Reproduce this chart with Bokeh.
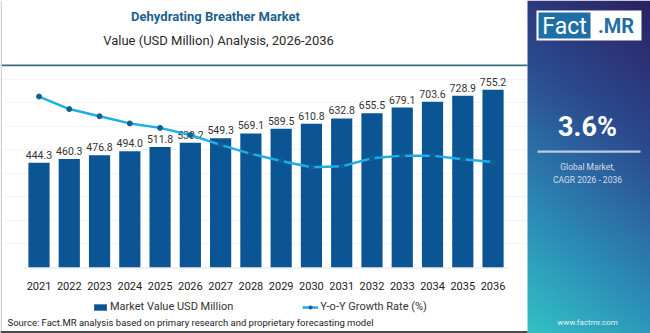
import numpy as np
from bokeh.plotting import figure
from bokeh.models import (Range1d, Label, BoxAnnotation, Legend, LegendItem,
                          ColumnDataSource, FixedTicker)
from bokeh.core.properties import value
from bokeh.embed import file_html
from bokeh.resources import INLINE

# ---------------- data ----------------
years = ["2021", "2022", "2023", "2024", "2025", "2026", "2027", "2028",
         "2029", "2030", "2031", "2032", "2033", "2034", "2035", "2036"]
market_value = [444.3, 460.3, 476.8, 494.0, 511.8, 530.2, 549.3, 569.1,
                589.5, 610.8, 632.8, 655.5, 679.1, 703.6, 728.9, 755.2]
value_labels = ["444.3", "460.3", "476.8", "494.0", "511.8", "530.2", "549.3", "569.1",
                "589.5", "610.8", "632.8", "655.5", "679.1", "703.6", "728.9", "755.2"]
yoy_growth = [4.11, 3.97, 3.89, 3.81, 3.76, 3.68, 3.57, 3.47,
              3.39, 3.32, 3.33, 3.42, 3.45, 3.45, 3.41, 3.38]

title_text = "Dehydrating Breather Market"
subtitle_text = "Value (USD Million) Analysis, 2026-2036"
source_text = "Source: Fact.MR analysis based on primary research and proprietary forecasting model"
bar_series_name = "Market Value USD Million"
line_series_name = "Y-o-Y Growth Rate (%)"
cagr_text = "3.6%"

# ---------------- styles / geometry ----------------
W, H = 650, 333
BAR = "#0b5595"
LINE = "#1caee5"
DOT = "#145f8f"
FONT = "Roboto"

SLOT = 30.27          # px per category
X0PX = 38.5           # px of first category centre
BASE = 267.0          # px (from top) of value 0
VPX = 0.2355          # px per USD million
G0, GPX = 2.2, 89.5   # growth value at baseline, px per growth unit

x_start = -X0PX / SLOT
x_end = x_start + W / SLOT
y_start = -(H - BASE) / VPX
y_end = BASE / VPX
g_start = G0 - (H - BASE) / GPX
g_end = G0 + BASE / GPX

p = figure(width=W, height=H, x_range=Range1d(x_start, x_end), y_range=Range1d(y_start, y_end),
           output_backend="svg", toolbar_location=None, min_border=0,
           x_axis_location=None, y_axis_location=None)
p.extra_y_ranges = {"g": Range1d(g_start, g_end)}
p.outline_line_color = None
p.background_fill_color = "white"
p.border_fill_color = "white"
p.xgrid.grid_line_color = None
p.ygrid.grid_line_color = "#f4f4f4"
p.ygrid.ticker = FixedTicker(ticks=[100, 200, 300, 400, 500, 600, 700, 800])

xpos = list(range(len(years)))
src = ColumnDataSource(dict(x=xpos, yr=years, v=market_value, lab=value_labels, g=yoy_growth,
                            zero=[0] * len(years)))
bars = p.vbar(x="x", top="v", width=0.7, source=src, fill_color=BAR, line_color=None)
p.text(x="x", y="v", text="lab", source=src, text_align="center", text_baseline="bottom",
       y_offset=-4, text_font_size="10.5px", text_color="#333333", text_font=value(FONT))
ln = p.line(x="x", y="g", source=src, y_range_name="g", line_color=LINE, line_width=2.5)
sc = p.scatter(x="x", y="g", source=src, y_range_name="g", size=5, fill_color=DOT,
               line_color=DOT)
# category axis labels
p.text(x="x", y="zero", text="yr", source=src, text_align="center", text_baseline="middle",
       y_offset=18, text_font_size="11px", text_color="#222222", text_font=value(FONT))


def box(l, r, t, b, color):
    # pixel coordinates measured from the top-left corner of the picture
    p.add_layout(BoxAnnotation(left=l, right=r, top=H - t, bottom=H - b,
                               left_units="screen", right_units="screen",
                               top_units="screen", bottom_units="screen",
                               fill_color=color, fill_alpha=1, line_color=None,
                               level="annotation"))


def label(x, y, text, size, color, align="center", style="normal"):
    p.add_layout(Label(x=x, y=H - y, x_units="screen", y_units="screen", text=text,
                       text_align=align, text_baseline="middle", text_font=FONT,
                       text_font_style=style, text_font_size=size, text_color=color,
                       level="overlay"))


# axis base line
box(23, 508, 267, 268, "#e4e4e4")

legend = Legend(items=[LegendItem(label=bar_series_name, renderers=[bars]),
                       LegendItem(label=line_series_name, renderers=[ln, sc])],
                orientation="horizontal", location=(92, H - 313), spacing=69,
                glyph_width=16, glyph_height=8, label_height=10, label_standoff=2,
                padding=0, margin=0, border_line_color=None, background_fill_alpha=0,
                label_text_font=FONT, label_text_font_size="11px", label_text_color="#333333")
p.add_layout(legend, "center")

label(215, 16, title_text, "13px", "#1d5f8f", style="bold")
label(218, 40, subtitle_text, "13px", "#2a2a2a")
label(7, 322, source_text, "9.5px", "#222222", align="left")

# header rule, left border, bottom rule
box(0, 527, 64, 65.7, "#3b6e84")
box(0, 1.5, 0, 333, "#d2d2d2")
box(0, 527, 330.5, 333, "#4a4a4a")

# ---------------- side panel (gradient) ----------------
PX0 = 527
PW = W - PX0
stops_t = [0.0, 0.35, 0.7, 1.0]
stops_c = np.array([[0x2c, 0x21, 0x62], [0x2b, 0x4a, 0x8f], [0x2b, 0x8a, 0xb6],
                    [0x33, 0xc2, 0xc4]], float)
xs = (np.arange(PW) + 0.5) / PW
ys_top = (H - np.arange(H) - 0.5) / H  # row 0 is bottom
tt = 0.78 * ys_top[:, None] + 0.22 * (1 - xs[None, :])
img = np.empty((H, PW), dtype=np.uint32)
view = img.view(dtype=np.uint8).reshape((H, PW, 4))
for k in range(3):
    view[:, :, k] = np.interp(tt, stops_t, stops_c[:, k]).astype(np.uint8)
view[:, :, 3] = 255
p.image_rgba(image=[img], x=x_start + PX0 / SLOT, y=y_start, dw=PW / SLOT, dh=H / VPX)

# logo
box(536, 641, 10, 40, "white")
box(538, 590, 12, 38, "#1f6fa6")
label(564, 25.5, "Fact", "23px", "white")
label(615.5, 25.5, ".MR", "20px", "#1f6fa6", style="bold")
# CAGR
label(587, 126, cagr_text, "27px", "white", style="bold")
box(537, 640, 150, 152.2, "#b9cbe6")
label(587, 166, "Global Market,", "8.5px", "#d6dcea")
label(587, 179, "CAGR 2026 - 2036", "8.5px", "#d6dcea")
label(587, 322, "www.factmr.com", "8px", "#e6f2f6")

open("out.html", "w").write(file_html(p, INLINE))
